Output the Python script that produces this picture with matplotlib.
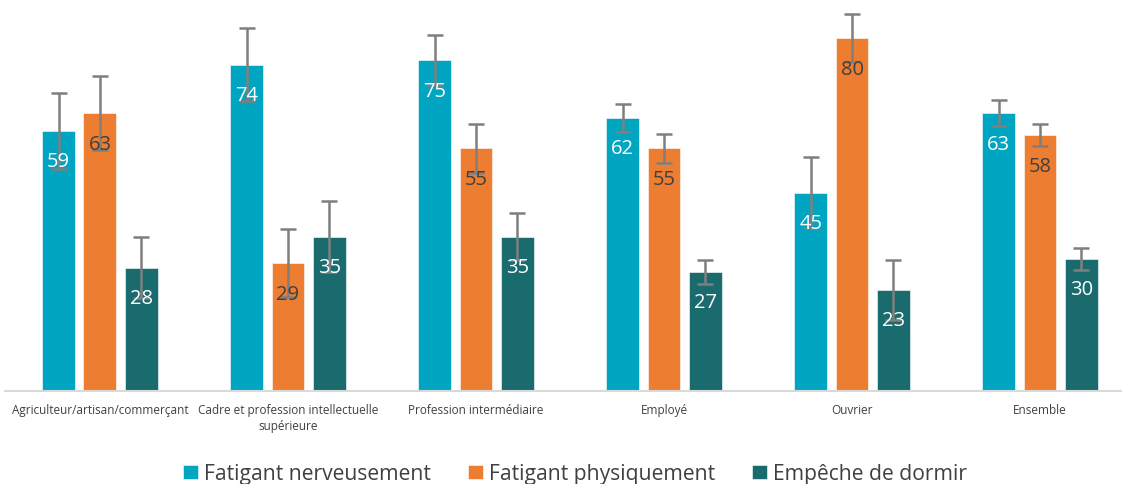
import matplotlib.pyplot as plt
import numpy as np

categories = ["Agriculteur/artisan/commerçant", "Cadre et profession intellectuelle\nsupérieure",
              "Profession intermédiaire", "Employé", "Ouvrier", "Ensemble"]
series_names = ["Fatigant nerveusement", "Fatigant physiquement", "Empêche de dormir"]
nerveusement = [59, 74, 75, 62, 45, 63]
physiquement = [63, 29, 55, 55, 80, 58]
dormir = [28, 35, 35, 27, 23, 30]
err_nerveusement = [8.6, 8.3, 5.7, 3.2, 8.0, 3.0]
err_physiquement = [8.4, 7.7, 5.5, 3.3, 5.5, 2.5]
err_dormir = [7.0, 8.0, 5.4, 2.7, 6.8, 2.5]

colors = ["#00A5C1", "#ED7D31", "#196B6E"]
label_colors = ["white", "#404040", "white"]

plt.rcParams["font.family"] = ["Open Sans", "DejaVu Sans"]

fig = plt.figure(figsize=(11.22, 4.85), dpi=100)
ax = fig.add_axes([5 / 1122, 93 / 485, 1117 / 1122, 392 / 485])

x = np.arange(len(categories))
width = 0.175
step = 0.22
values = [nerveusement, physiquement, dormir]
errors = [err_nerveusement, err_physiquement, err_dormir]

for i, (vals, errs) in enumerate(zip(values, errors)):
    pos = x + (i - 1) * step
    ax.bar(pos, vals, width=width, color=colors[i], edgecolor="white", linewidth=0.4,
           label=series_names[i], zorder=2)
    ax.errorbar(pos, vals, yerr=errs, fmt="none", ecolor="#7f7f7f", elinewidth=1.8,
                capsize=6, capthick=1.8, zorder=3)
    for p, v in zip(pos, vals):
        ax.text(p, v - 6.9, str(v), ha="center", va="center", fontsize=14.5,
                color=label_colors[i], zorder=4)

ax.set_xlim(-0.505, 5.436)
ax.set_ylim(0, 88.9)
ax.set_yticks([])
ax.set_xticks(x)
ax.set_xticklabels(categories, fontsize=8.5, color="#404040", linespacing=1.25)
ax.tick_params(axis="x", length=0, pad=9)
for side in ["top", "right", "left"]:
    ax.spines[side].set_visible(False)
ax.spines["bottom"].set_color("#d9d9d9")
ax.spines["bottom"].set_linewidth(1.5)

fig.legend(loc="lower center", bbox_to_anchor=(0.5125, -0.04), ncol=3, frameon=False,
           fontsize=15.2, handlelength=0.7, handleheight=0.7, handletextpad=0.3,
           columnspacing=1.75, labelcolor="#404040")

fig.savefig("out.png", dpi=100)
